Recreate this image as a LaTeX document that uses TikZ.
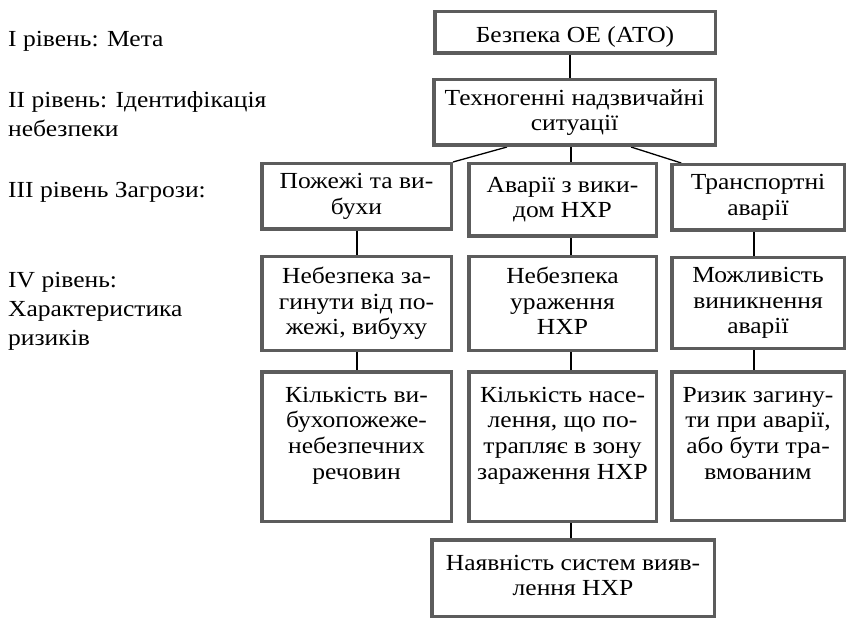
\documentclass[tikz,border=0pt]{standalone}
\usepackage{fontspec}
\setmainfont{Liberation Serif}[FakeStretch=1.11]
\usetikzlibrary{backgrounds}
\definecolor{boxgray}{RGB}{92,92,92}
\tikzset{
  box/.style={draw=boxgray, line width=3.5pt, fill=white, inner sep=0pt, align=center,
    font=\fontsize{23}{25.7}\selectfont,
    execute at begin node={\rule{0pt}{25pt}},
    execute at end node={\rule[-5pt]{0pt}{5pt}}},
  txt/.style={anchor=base, align=center, inner sep=0pt, font=\fontsize{23}{25.7}\selectfont},
  lbl/.style={anchor=base west, align=left, inner sep=0pt, font=\fontsize{23}{29}\selectfont},
  conn/.style={draw=black, line width=1.3pt}
}
\begin{document}
\begin{tikzpicture}[x=1pt,y=-1pt]
\useasboundingbox (0,0) rectangle (848,620);
% level labels (anchor at baseline of last line)
\node[lbl] (l1) at (8,47) {I рівень: Мета};
\node[lbl] (l2) at (8,137) {II рівень: Ідентифікація\\небезпеки};
\node[lbl] (l3) at (8,198) {III рівень Загрози:};
\node[lbl] (l4) at (8,345) {IV рівень:\\Характеристика\\ризиків};
% boxes
\node[box, minimum width=280.5pt, minimum height=41.5pt] (t1) at (575,32.5) {Безпека ОЕ (АТО)};
\node[box, minimum width=281.5pt, minimum height=65.5pt] (t2) at (574.5,112.5) {Техногенні надзвичайні\\ситуації};
\node[box, minimum width=189.5pt, minimum height=65.5pt] (a3) at (356.5,196.5) {Пожежі та ви-\\бухи};
\node[box, minimum width=187.5pt, minimum height=72.5pt, execute at begin node={\rule{0pt}{19pt}}] (b3) at (562.5,200) {Аварії з вики-\\дом НХР};
\node[box, minimum width=172.5pt, minimum height=65.5pt] (c3) at (758,197.5) {Транспортні\\аварії};
\node[box, minimum width=189.5pt, minimum height=93.5pt] (a4) at (356.5,303.5) {Небезпека за-\\гинути від по-\\жежі, вибуху};
\node[box, minimum width=187.5pt, minimum height=93.5pt] (b4) at (562.5,303.5) {Небезпека\\ураження\\НХР};
\node[box, minimum width=172.5pt, minimum height=90.5pt] (c4) at (758,303) {Можливість\\виникнення\\аварії};
\node[box, minimum width=189.5pt, minimum height=149.5pt] (a5) at (356.5,446.5) {};
\node[box, minimum width=187.5pt, minimum height=149.5pt] (b5) at (562.5,446.5) {};
\node[box, minimum width=172.5pt, minimum height=148.5pt] (c5) at (758,446) {};
\node[txt] (a5t) at (356.5,479.1) {Кількість ви-\\бухопожеже-\\небезпечних\\речовин};
\node[txt] (b5t) at (562.5,479.1) {Кількість насе-\\лення, що по-\\трапляє в зону\\зараження НХР};
\node[txt] (c5t) at (758,479.1) {Ризик загину-\\ти при аварії,\\або бути тра-\\вмованим};
\node[box, minimum width=282.5pt, minimum height=76.5pt, execute at begin node={\rule{0pt}{16pt}}] (d) at (573,578) {Наявність систем вияв-\\лення НХР};
% connectors
\begin{scope}[on background layer]
\coordinate (xt) at (570,0);
\coordinate (xa) at (357,0);
\coordinate (xb) at (571,0);
\coordinate (xc) at (754,0);
\draw[conn] (t1.south -| xt) -- (t2.north -| xt);
\draw[conn] ([xshift=-67.5pt]t2.south) -- (a3.north east);
\draw[conn] (t2.south -| xb) -- (b3.north -| xb);
\draw[conn] ([xshift=56.5pt]t2.south) -- ([xshift=11.25pt]c3.north west);
\draw[conn] (a3.south -| xa) -- (a4.north -| xa);
\draw[conn] (b3.south -| xb) -- (b4.north -| xb);
\draw[conn] (c3.south -| xc) -- (c4.north -| xc);
\draw[conn] (a4.south -| xa) -- (a5.north -| xa);
\draw[conn] (b4.south -| xb) -- (b5.north -| xb);
\draw[conn] (c4.south -| xc) -- (c5.north -| xc);
\draw[conn] (b5.south -| xb) -- (d.north -| xb);
\end{scope}
\end{tikzpicture}
\end{document}
